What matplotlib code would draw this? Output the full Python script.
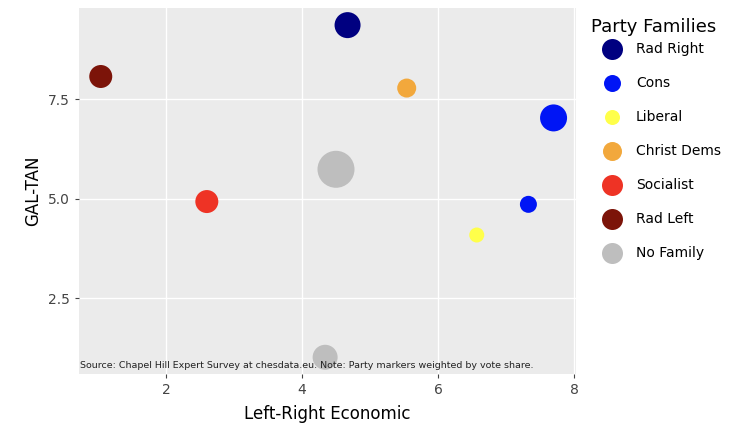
import matplotlib.pyplot as plt

# Party positions (Chapel Hill Expert Survey)
lr_econ = [1.04, 2.60, 4.67, 5.54, 7.70, 4.50, 7.33, 6.57, 4.34]
galtan = [8.07, 4.93, 9.36, 7.78, 7.03, 5.74, 4.86, 4.09, 1.02]
family = ["Rad Left", "Socialist", "Rad Right", "Christ Dems", "Cons",
          "No Family", "Cons", "Liberal", "No Family"]
vote_share = [23, 23, 26, 19, 27, 37, 17, 15, 25]  # marker weight

families = ["Rad Right", "Cons", "Liberal", "Christ Dems", "Socialist",
            "Rad Left", "No Family"]
colors = {"Rad Right": "#000080", "Cons": "#0015F5", "Liberal": "#FFFF4A",
          "Christ Dems": "#F2A83C", "Socialist": "#EE3325",
          "Rad Left": "#7C1409", "No Family": "#BEBEBE"}
legend_size = [21, 17, 15, 19, 21, 21, 21]

xticks = [2, 4, 6, 8]
yticks = [2.5, 5.0, 7.5]

fig = plt.figure(figsize=(7.29, 4.26), dpi=100)
ax = fig.add_axes([79 / 729, 1 - 374 / 426, 497 / 729, 366 / 426])
ax.set_facecolor("#EBEBEB")
for s in ax.spines.values():
    s.set_visible(False)
ax.grid(True, color="white", linewidth=1.0)
ax.set_axisbelow(True)

# diameter in px -> marker area in pt^2
sizes = [(v * 0.72) ** 2 for v in vote_share]
ax.scatter(lr_econ, galtan, s=sizes, c=[colors[f] for f in family],
           linewidths=0, zorder=3)

ax.set_xlim(0.72, 8.03)
ax.set_ylim(0.6, 9.79)
ax.set_xticks(xticks)
ax.set_yticks(yticks)
ax.set_yticklabels([f"{t:.1f}" for t in yticks])
ax.tick_params(colors="#444444", labelsize=10, length=3, width=0.8)
ax.set_xlabel("Left-Right Economic", fontsize=12, labelpad=6)
ax.set_ylabel("GAL-TAN", fontsize=12, labelpad=4)

ax.text(0.003, 0.012,
        "Source: Chapel Hill Expert Survey at chesdata.eu. Note: Party markers weighted by vote share.",
        transform=ax.transAxes, fontsize=6.8, color="#222222", zorder=5,
        ha="left", va="bottom")

# legend drawn in pixel coordinates on an overlay axes
lax = fig.add_axes([0, 0, 1, 1])
lax.set_xlim(0, 729)
lax.set_ylim(426, 0)
lax.axis("off")
lax.text(591, 27, "Party Families", fontsize=13, va="center", ha="left")
for i, f in enumerate(families):
    y = 49 + 34 * i
    lax.scatter([612], [y], s=(legend_size[i] * 0.72) ** 2, c=colors[f],
                linewidths=0)
    lax.text(636, y, f, fontsize=10, va="center", ha="left")

fig.savefig("out.png", dpi=100)
